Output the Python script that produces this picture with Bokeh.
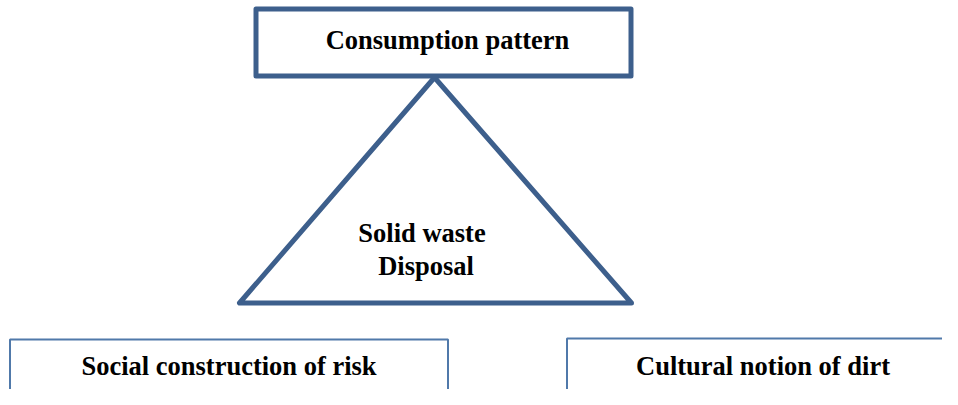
from bokeh.plotting import figure
from bokeh.models import Range1d, ColumnDataSource
from bokeh.core.properties import value
from bokeh.embed import file_html
from bokeh.resources import INLINE

# Diagram content
box_labels = ["Consumption pattern", "Social construction of risk", "Cultural notion of dirt"]
center_labels = ["Solid waste", "Disposal"]

# Layout (pixel coordinates of the diagram)
top_box = dict(left=[255.5], right=[630.5], top=[8.5], bottom=[75.5])
low_boxes = dict(left=[9.5, 566.5], right=[447.5, 962], top=[339, 338], bottom=[408, 402])
tri_x = [434, 239, 631]
tri_y = [77, 302.5, 302.5]
box_text_x = [447, 228.5, 762.5]
box_text_y = [39, 365, 365]
center_text_x = [421.5, 425.5]
center_text_y = [232, 265]

DARK = "#3d5f8c"
LIGHT = "#5079aa"
FONT = value("Liberation Serif")

p = figure(width=942, height=389, output_backend="svg", toolbar_location=None,
           x_range=Range1d(0, 942), y_range=Range1d(389, 0), min_border=0)
p.axis.visible = False
p.grid.visible = False
p.outline_line_color = None
p.background_fill_color = "white"
p.border_fill_color = "white"

p.patch(tri_x, tri_y, fill_color="white", line_color=DARK, line_width=5, line_join="round")
p.quad(source=ColumnDataSource(top_box), left="left", right="right", top="top", bottom="bottom",
       fill_color="white", line_color=DARK, line_width=5, line_join="round")
p.quad(source=ColumnDataSource(low_boxes), left="left", right="right", top="top", bottom="bottom",
       fill_color="white", line_color=LIGHT, line_width=2)

p.text(x=box_text_x, y=box_text_y, text=box_labels, text_font=FONT, text_font_style="bold",
       text_font_size="26.5px", text_align="center", text_baseline="alphabetic", text_color="black")
p.text(x=center_text_x, y=center_text_y, text=center_labels, text_font=FONT, text_font_style="bold",
       text_font_size="26.5px", text_align="center", text_baseline="alphabetic", text_color="black")

open("out.html", "w").write(file_html(p, INLINE))
